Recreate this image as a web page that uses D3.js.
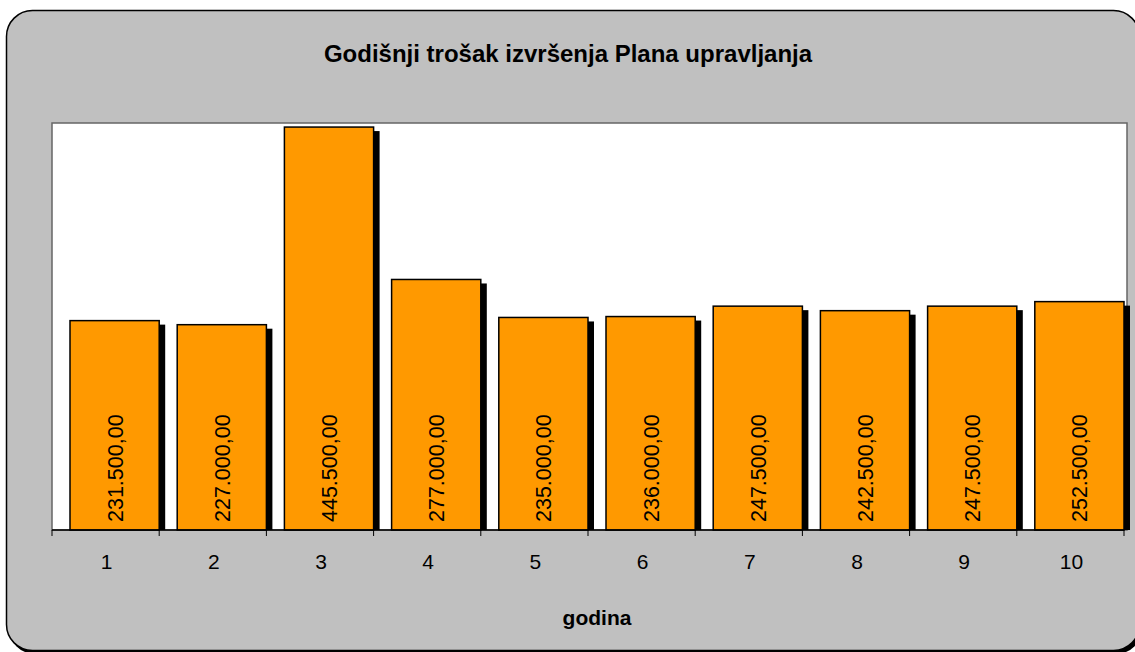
<!DOCTYPE html>
<html>
<head>
<meta charset="utf-8">
<script src="https://cdn.jsdelivr.net/npm/d3@7"></script>
<style>
  body { margin: 0; background: #fff; }
  text { font-family: Arial, "Liberation Sans", sans-serif; }
</style>
</head>
<body>
<svg id="chart"></svg>
<script>
// Chart data
const years = ["1", "2", "3", "4", "5", "6", "7", "8", "9", "10"];
const costs = [231500, 227000, 445500, 277000, 235000, 236000, 247500, 242500, 247500, 252500];
const costLabels = ["231.500,00", "227.000,00", "445.500,00", "277.000,00", "235.000,00",
  "236.000,00", "247.500,00", "242.500,00", "247.500,00", "252.500,00"];

const W = 1135, H = 652;
const plot = { left: 52, right: 1124, top: 123, bottom: 530 };

const svg = d3.select("#chart").attr("width", W).attr("height", H);

// Outer chart area with shadow (runs past the right and bottom edges)
svg.append("rect")
  .attr("x", 9).attr("y", 13)
  .attr("width", 1133).attr("height", 641)
  .attr("rx", 26)
  .attr("fill", "#000");
svg.append("rect")
  .attr("x", 6.5).attr("y", 10.5)
  .attr("width", 1133).attr("height", 640)
  .attr("rx", 26)
  .attr("fill", "#c0c0c0")
  .attr("stroke", "#000")
  .attr("stroke-width", 1.5);

// Plot area
svg.append("rect")
  .attr("x", plot.left).attr("y", plot.top)
  .attr("width", 1127 - plot.left).attr("height", plot.bottom - plot.top)
  .attr("fill", "#fff")
  .attr("stroke", "#666")
  .attr("stroke-width", 1.5);

// Scales
const x = d3.scaleBand().domain(years).range([plot.left, plot.right]).padding(0);
const y = d3.scaleLinear().domain([0, 450000]).range([plot.bottom, plot.top]);

const barOffset = 18;
const barW = x.bandwidth() - barOffset;

const g = svg.append("g");

// Bar shadows
g.selectAll(".shadow")
  .data(costs)
  .enter()
  .append("rect")
  .attr("class", "shadow")
  .attr("x", (d, i) => x(years[i]) + barOffset + 6)
  .attr("y", (d) => y(d) + 4)
  .attr("width", barW)
  .attr("height", (d) => plot.bottom - y(d) - 4)
  .attr("fill", "#000");

// Bars
g.selectAll(".bar")
  .data(costs)
  .enter()
  .append("rect")
  .attr("class", "bar")
  .attr("x", (d, i) => x(years[i]) + barOffset)
  .attr("y", (d) => y(d))
  .attr("width", barW)
  .attr("height", (d) => plot.bottom - y(d))
  .attr("fill", "#ff9900")
  .attr("stroke", "#000")
  .attr("stroke-width", 1.5);

// Value labels inside bars
g.selectAll(".value-label")
  .data(costLabels)
  .enter()
  .append("text")
  .attr("class", "value-label")
  .attr("transform", (d, i) => `translate(${x(years[i]) + barOffset + barW / 2 + 8},${plot.bottom - 8}) rotate(-90)`)
  .style("font-size", "21.5px")
  .attr("fill", "#000")
  .text((d) => d);

// X axis
const xAxis = svg.append("g")
  .attr("transform", `translate(0,${plot.bottom})`);
xAxis.append("line")
  .attr("x1", plot.left).attr("x2", plot.right)
  .attr("stroke", "#000").attr("stroke-width", 1.5);
xAxis.selectAll(".tick-mark")
  .data(years.concat(["end"]))
  .enter()
  .append("line")
  .attr("x1", (d, i) => plot.left + i * x.bandwidth())
  .attr("x2", (d, i) => plot.left + i * x.bandwidth())
  .attr("y1", 0).attr("y2", 6)
  .attr("stroke", "#000");
xAxis.selectAll(".tick-label")
  .data(years)
  .enter()
  .append("text")
  .attr("x", (d) => x(d) + x.bandwidth() / 2 + 1)
  .attr("y", 39)
  .attr("text-anchor", "middle")
  .style("font-size", "21px")
  .text((d) => d);

// Titles
svg.append("text")
  .attr("x", 568).attr("y", 62)
  .attr("text-anchor", "middle")
  .style("font-size", "24px")
  .style("font-weight", "bold")
  .text("Godišnji trošak izvršenja Plana upravljanja");

svg.append("text")
  .attr("x", 597).attr("y", 625)
  .attr("text-anchor", "middle")
  .style("font-size", "21px")
  .style("font-weight", "bold")
  .text("godina");
</script>
</body>
</html>
